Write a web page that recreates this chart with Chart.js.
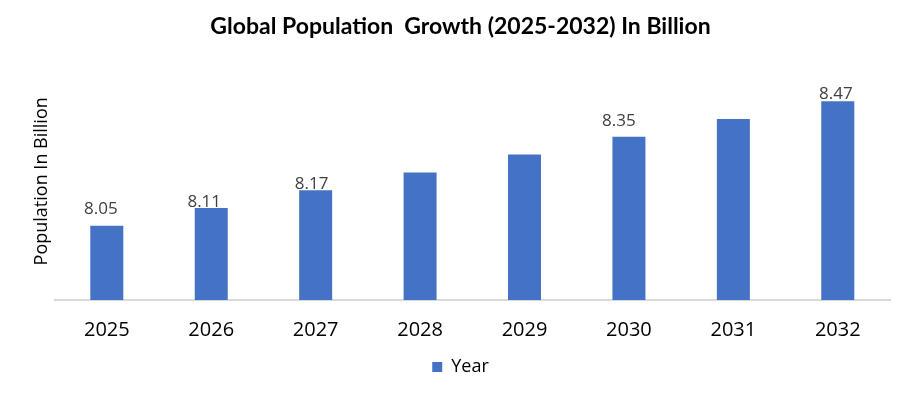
<!DOCTYPE html>
<html>
<head>
<meta charset="utf-8">
<script src="https://cdn.jsdelivr.net/npm/chart.js@4.4.1/dist/chart.umd.min.js"></script>
<style>
  html, body { margin: 0; padding: 0; background: #ffffff; }
  #wrap { width: 914px; height: 396px; }
</style>
</head>
<body>
<div id="wrap"><canvas id="c" width="914" height="396"></canvas></div>
<script>
// ---- data ----
const years = ["2025", "2026", "2027", "2028", "2029", "2030", "2031", "2032"];
const population = [8.05, 8.11, 8.17, 8.23, 8.29, 8.35, 8.41, 8.47];
const showValueLabel = [true, true, true, false, false, true, false, true];
const seriesName = "Year";
const chartTitle = "Global Population  Growth (2025-2032) In Billion";
const yAxisTitle = "Population In Billion";

// label placement tweaks (style only): [dx, gap above bar]
const labelNudge = [[-6, 12], [-7, 1], [-4, 1], [0, 8], [0, 8], [-10, 11], [0, 8], [-2, 2]];

const valueLabels = {
  id: 'valueLabels',
  afterDatasetsDraw(chart) {
    const ctx = chart.ctx;
    const meta = chart.getDatasetMeta(0);
    ctx.save();
    ctx.font = '17px "Open Sans"';
    ctx.fillStyle = '#404040';
    ctx.textAlign = 'center';
    ctx.textBaseline = 'alphabetic';
    meta.data.forEach((bar, i) => {
      if (!showValueLabel[i]) return;
      const [dx, gap] = labelNudge[i];
      ctx.fillText(population[i].toFixed(2), bar.x + dx, bar.y - gap);
    });
    ctx.restore();
  }
};

new Chart(document.getElementById('c'), {
  type: 'bar',
  data: {
    labels: years,
    datasets: [{
      label: seriesName,
      data: population,
      backgroundColor: '#4472C4',
      borderWidth: 0,
      categoryPercentage: 1.0,
      barPercentage: 0.316
    }]
  },
  options: {
    responsive: false,
    animation: false,
    devicePixelRatio: 1,
    layout: { padding: { left: 31, right: 24, top: 0, bottom: 10 } },
    plugins: {
      title: {
        display: true,
        text: chartTitle,
        color: '#000000',
        font: { family: 'Lato', size: 23, weight: 'bold' },
        padding: { top: 13, bottom: 22 }
      },
      legend: {
        display: true,
        position: 'bottom',
        labels: {
          color: '#000000',
          font: { family: 'Open Sans', size: 18 },
          boxWidth: 10,
          boxHeight: 10,
          padding: 6
        }
      },
      tooltip: { enabled: false }
    },
    scales: {
      x: {
        grid: { display: false },
        border: { display: true, color: '#d9d9d9', width: 2 },
        ticks: {
          color: '#000000',
          font: { family: 'Open Sans', size: 20 },
          padding: 10,
          maxRotation: 0
        }
      },
      y: {
        min: 7.8,
        max: 8.6,
        grid: { display: false, drawTicks: false },
        border: { display: false },
        ticks: { display: false },
        title: {
          display: true,
          text: yAxisTitle,
          color: '#000000',
          font: { family: 'Open Sans', size: 18 },
          padding: { top: 0, bottom: 2 }
        }
      }
    }
  },
  plugins: [valueLabels]
});
</script>
</body>
</html>
